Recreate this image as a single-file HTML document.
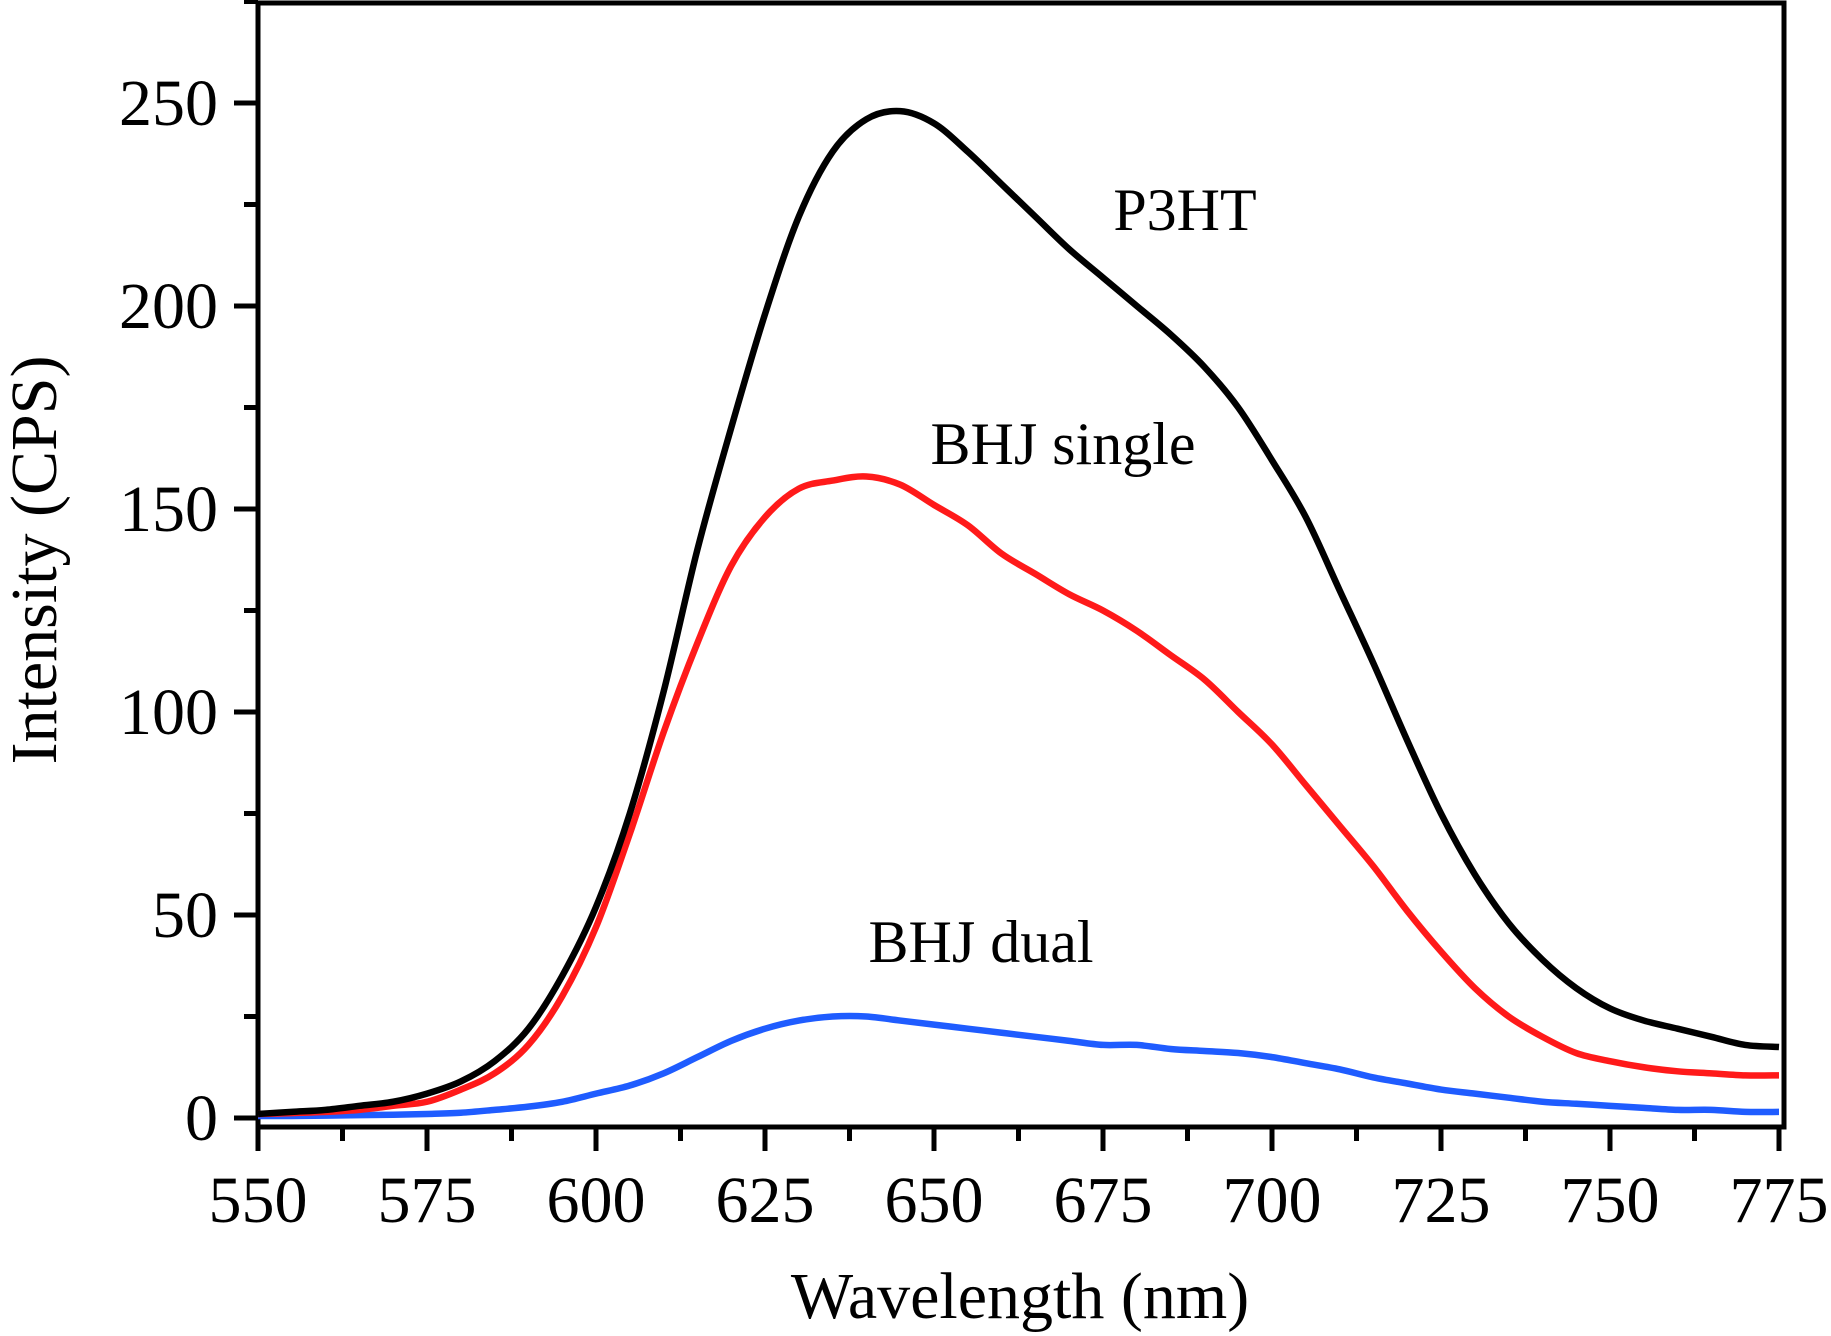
<!DOCTYPE html>
<html><head><meta charset="utf-8"><style>
html,body{margin:0;padding:0;background:#fff;}
svg{display:block;font-family:"Liberation Serif",serif;}
</style></head><body>
<svg id="chart" width="1831" height="1336" viewBox="0 0 1831 1336" xmlns="http://www.w3.org/2000/svg"></svg>
<script>
const wl = [550,555,560,565,570,575,580,585,590,595,600,605,610,615,620,625,630,635,640,645,650,655,660,665,670,675,680,685,690,695,700,705,710,715,720,725,730,735,740,745,750,755,760,765,770,775];
const p3ht = [1,1.5,2,3,4,6,9,14,22,35,52,75,105,140,170,198,222,238,246,248,245,238,230,222,214,207,200,193,185,175,162,148,130,112,93,75,60,48,39,32,27,24,22,20,18,17.5];
const bhjSingle = [1,1.2,1.5,2,3,4,7,11,18,30,47,70,95,117,136,148,155,157,158,156,151,146,139,134,129,125,120,114,108,100,92,82,72,62,51,41,32,25,20,16,14,12.5,11.5,11,10.5,10.5];
const bhjDual = [0.5,0.5,0.6,0.7,0.8,1,1.3,2,2.8,4,6,8,11,15,19,22,24,25,25,24,23,22,21,20,19,18,18,17,16.5,16,15,13.5,12,10,8.5,7,6,5,4,3.5,3,2.5,2,2,1.5,1.5];
const xTicks = [550,575,600,625,650,675,700,725,750,775];
const yTicks = [0,50,100,150,200,250];

const NS="http://www.w3.org/2000/svg";
const svg=document.getElementById('chart');
const X0=258,X1=1779,Y0=1118,Y250=103;
const xs=v=>X0+(v-550)/(775-550)*(X1-X0);
const ys=v=>Y0+(v)/250*(Y250-Y0);
const AX=1127, RIGHT=1784, TOP=3;
function mk(tag,attrs){const e=document.createElementNS(NS,tag);for(const k in attrs)e.setAttribute(k,attrs[k]);svg.appendChild(e);return e;}

let fr=mk('path',{d:`M${X0},${AX} L${X0},${TOP} L${RIGHT},${TOP} L${RIGHT},${AX} Z`,fill:'none',stroke:'#000','stroke-width':5});



for(let v=550;v<=775;v+=12.5){
  const major=(v%25===0);
  const t=mk('line',{x1:xs(v),x2:xs(v),y1:AX,y2:AX+(major?24:14),stroke:'#000','stroke-width':5});
  
  
}
xTicks.forEach(v=>{
  const t=mk('text',{x:xs(v),y:1222,'text-anchor':'middle','font-size':66,fill:'#000'});
  t.textContent=v;
  
  
});
for(let v=0;v<=275;v+=25){
  const major=(v%50===0);
  const t=mk('line',{x1:X0-(major?24:14),x2:X0,y1:ys(v),y2:ys(v),stroke:'#000','stroke-width':5});
  
  
}
yTicks.forEach(v=>{
  const t=mk('text',{x:X0-40,y:ys(v)+22,'text-anchor':'end','font-size':66,fill:'#000'});
  t.textContent=v;
  
  
});
let xt=mk('text',{x:1020,y:1318,'text-anchor':'middle','font-size':66,fill:'#000'});
xt.textContent='Wavelength (nm)';


let yt=mk('text',{x:0,y:0,'text-anchor':'middle','font-size':66,fill:'#000',transform:'translate(56,560) rotate(-90)'});
yt.textContent='Intensity (CPS)';



function line(vals,color,name){
  const pts=wl.map((w,i)=>[xs(w),ys(vals[i])]);
  let d=`M${pts[0][0]},${pts[0][1]}`;
  for(let i=0;i<pts.length-1;i++){
    const p0=pts[Math.max(0,i-1)],p1=pts[i],p2=pts[i+1],p3=pts[Math.min(pts.length-1,i+2)];
    const c1=[p1[0]+(p2[0]-p0[0])/6,p1[1]+(p2[1]-p0[1])/6];
    const c2=[p2[0]-(p3[0]-p1[0])/6,p2[1]-(p3[1]-p1[1])/6];
    d+=` C${c1[0]},${c1[1]} ${c2[0]},${c2[1]} ${p2[0]},${p2[1]}`;
  }
  const p=mk('path',{d:d,fill:'none',stroke:color,'stroke-width':6.5,'stroke-linejoin':'round'});
  
  
}
line(bhjDual,'#1f5cff','bhj-dual-line');
line(bhjSingle,'#ff1a1a','bhj-single-line');
line(p3ht,'#000000','p3ht-line');

[['P3HT',1185,230,'p3ht-label'],['BHJ single',1063,464,'bhj-single-label'],['BHJ dual',981,962,'bhj-dual-label']].forEach(a=>{
  const t=mk('text',{x:a[1],y:a[2],'text-anchor':'middle','font-size':60,fill:'#000'});
  t.textContent=a[0];
  
  
});
</script>
</body></html>
